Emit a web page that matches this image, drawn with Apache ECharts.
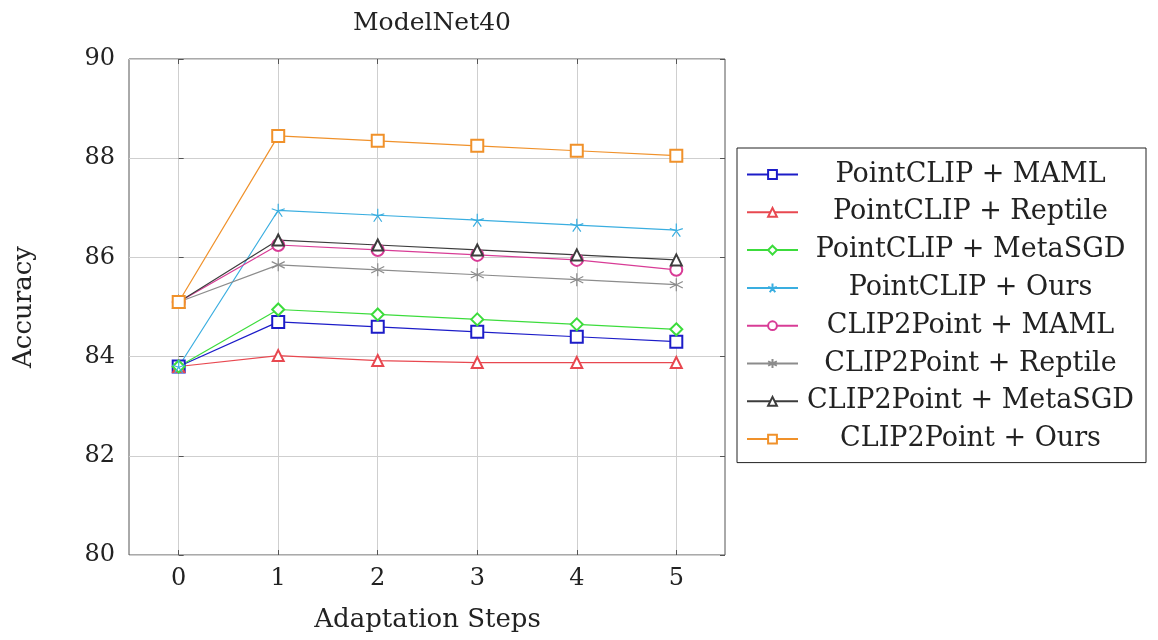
<!DOCTYPE html>
<html>
<head>
<meta charset="utf-8">
<script src="https://cdn.jsdelivr.net/npm/echarts@6/dist/echarts.min.js"></script>
<style>
  html, body { margin: 0; padding: 0; background: #fff; }
  #main { width: 1158px; height: 640px; }
</style>
</head>
<body>
<div id="main"></div>
<script>
// data
var steps = [0, 1, 2, 3, 4, 5];
var yTicks = [80, 82, 84, 86, 88, 90];
var names = [
    'PointCLIP + MAML', 'PointCLIP + Reptile', 'PointCLIP + MetaSGD', 'PointCLIP + Ours',
    'CLIP2Point + MAML', 'CLIP2Point + Reptile', 'CLIP2Point + MetaSGD', 'CLIP2Point + Ours'
];
var pcMaml    = [83.8, 84.7, 84.6, 84.5, 84.4, 84.3];
var pcReptile = [83.8, 84.02, 83.92, 83.88, 83.88, 83.88];
var pcMetaSGD = [83.8, 84.95, 84.85, 84.75, 84.65, 84.55];
var pcOurs    = [83.8, 86.95, 86.85, 86.75, 86.65, 86.55];
var c2pMaml    = [85.1, 86.25, 86.15, 86.05, 85.95, 85.75];
var c2pReptile = [85.1, 85.85, 85.75, 85.65, 85.55, 85.45];
var c2pMetaSGD = [85.1, 86.35, 86.25, 86.15, 86.05, 85.95];
var c2pOurs    = [85.1, 88.45, 88.35, 88.25, 88.15, 88.05];

var values = [pcMaml, pcReptile, pcMetaSGD, pcOurs, c2pMaml, c2pReptile, c2pMetaSGD, c2pOurs];

// styles
var font = 'DejaVu Serif';
var colors = ['#1c1cc8', '#e84850', '#3cdc3c', '#3aaee0', '#d83c96', '#8c8c8c', '#3c3c3c', '#f0912a'];
var star5 = 'path://M0,-10L0,0M9.5,-3.1L0,0M5.9,8.1L0,0M-5.9,8.1L0,0M-9.5,-3.1L0,0';
var star6 = 'path://M0,-10L0,10M-8.7,-5L8.7,5M-8.7,5L8.7,-5';
var symbols = ['emptyRect', 'emptyTriangle', 'emptyDiamond', star5, 'emptyCircle', star6, 'emptyTriangle', 'emptyRect'];
var sizes = [12, 11, 12, 13, 12, 13, 11, 12];

var chart = echarts.init(document.getElementById('main'));

var series = names.map(function (name, i) {
    return {
        name: name,
        type: 'line',
        xAxisIndex: 1,
        yAxisIndex: 2,
        data: values[i].map(function (v, j) { return [steps[j], v]; }),
        symbol: symbols[i],
        symbolSize: sizes[i],
        showAllSymbol: true,
        clip: false,
        color: colors[i],
        lineStyle: { width: 1.2, color: colors[i] },
        itemStyle: { color: colors[i], borderColor: colors[i], borderWidth: 1.2 },
        emphasis: { disabled: true }
    };
});

var option = {
    backgroundColor: '#fff',
    animation: false,
    title: {
        text: 'ModelNet40',
        left: 427,
        top: 6,
        textAlign: 'center',
        textStyle: { fontFamily: font, fontWeight: 'normal', fontSize: 25, color: '#222' }
    },
    legend: {
        orient: 'vertical',
        left: 737,
        top: 148,
        padding: [13, 8, 10, 9],
        itemWidth: 51,
        itemHeight: 11,
        itemGap: 10.8,
        borderColor: '#222',
        borderWidth: 1,
        data: names,
        formatter: function (name) { return '{c|' + name + '}'; },
        textStyle: {
            rich: {
                c: { width: 335, align: 'center', fontFamily: font, fontSize: 27, lineHeight: 30, color: '#222' }
            }
        }
    },
    grid: [
        { left: 129, top: 59, width: 596, height: 496, show: true, borderColor: '#555', borderWidth: 1, backgroundColor: 'transparent' },
        { left: 178.7, top: 59, width: 497.6, height: 496 }
    ],
    xAxis: [
        { type: 'value', gridIndex: 0, min: -0.5, max: 5.5, show: false },
        {
            type: 'value', gridIndex: 1, min: steps[0], max: steps[steps.length - 1], interval: 1,
            axisLine: { show: false },
            axisTick: { show: true, inside: true, length: 5, lineStyle: { color: '#555' } },
            axisLabel: { fontFamily: font, fontSize: 24, color: '#222', margin: 12 },
            splitLine: { show: true, lineStyle: { color: '#cfcfcf', width: 1 } },
            name: 'Adaptation Steps',
            nameLocation: 'middle',
            nameGap: 52,
            nameTextStyle: { fontFamily: font, fontSize: 26, color: '#222' }
        },
        {
            type: 'value', gridIndex: 1, position: 'top', min: steps[0], max: steps[steps.length - 1], interval: 1,
            axisLine: { show: false },
            axisTick: { show: true, inside: true, length: 5, lineStyle: { color: '#555' } },
            axisLabel: { show: false },
            splitLine: { show: false }
        }
    ],
    yAxis: [
        {
            type: 'value', gridIndex: 0, min: yTicks[0], max: yTicks[yTicks.length - 1], interval: 2,
            axisLine: { show: false },
            axisTick: { show: true, inside: true, length: 5, lineStyle: { color: '#555' } },
            axisLabel: { fontFamily: font, fontSize: 24, color: '#222', margin: 14 },
            splitLine: { show: true, lineStyle: { color: '#cfcfcf', width: 1 } },
            name: 'Accuracy',
            nameLocation: 'middle',
            nameGap: 92,
            nameTextStyle: { fontFamily: font, fontSize: 26, color: '#222' }
        },
        {
            type: 'value', gridIndex: 0, position: 'right', min: yTicks[0], max: yTicks[yTicks.length - 1], interval: 2,
            axisLine: { show: false },
            axisTick: { show: true, inside: true, length: 5, lineStyle: { color: '#555' } },
            axisLabel: { show: false },
            splitLine: { show: false }
        },
        { type: 'value', gridIndex: 1, min: yTicks[0], max: yTicks[yTicks.length - 1], show: false }
    ],
    series: series
};

chart.setOption(option);
</script>
</body>
</html>
